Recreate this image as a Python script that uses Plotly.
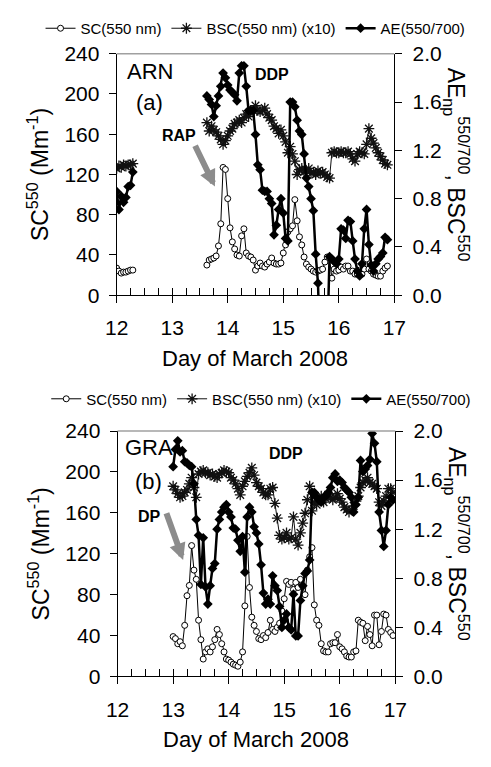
import plotly.graph_objects as go

FONT = "Liberation Sans, Arial, sans-serif"
HOURS_PER_DAY = 24

# ---------------- Panel (a) ARN ----------------
arn_seg1_start = 12.0
arn_sc_1 = [27, 24, 22, 23, 23, 24, 25, 25]
arn_bsc_1 = [1.05, 1.07, 1.06, 1.08, 1.07, 1.08, 1.08, 1.09]
arn_ae_1 = [0.86, 0.71, 0.82, 0.77, 0.81, 0.90, 0.91, 1.02]

arn_seg2_start = 13.625
arn_sc_2 = [30, 35, 36, 37, 39, 49, 71, 127, 125, 96, 67, 53,
            46, 40, 39, 59, 66, 42, 39, 38, 35, 25, 29, 32,
            29, 28, 31, 33, 37, 32, 31, 31, 32, 42, 50, 63,
            66, 69, 95, 74, 58, 50, 38, 31, 28, 26, 24, 23,
            24, 25, 26, 33, 38, 37, 17, 26, 24, 25, 28, 26,
            29, 29, 24, 24, 21, 21, 25, 21, 26, 36, 26, 24,
            21, 20, 19, 19, 24, 27, 29]
arn_bsc_2 = [1.43, 1.36, 1.40, 1.37, 1.35, 1.32, 1.29, 1.25, 1.28, 1.32, 1.36, 1.38,
             1.42, 1.43, 1.45, 1.43, 1.47, 1.50, 1.48, 1.52, 1.53, 1.57, 1.53, 1.52,
             1.53, 1.55, 1.50, 1.47, 1.45, 1.40, 1.38, 1.34, 1.37, 1.32, 1.27, 1.18,
             1.23, 1.17, 1.11, 1.00, 1.04, 1.05, 1.02, 1.03, 1.05, 1.01, 1.02, 1.00,
             1.03, 1.01, 1.02, 1.00, 0.98, 0.97, 1.18, 1.19, 1.18, 1.18, 1.19, 1.18,
             1.18, 1.19, 1.17, 1.13, 1.11, 1.17, 1.19, 1.18, 1.17, 1.25, 1.38, 1.30,
             1.26, 1.22, 1.18, 1.15, 1.12, 1.09, 1.08]
arn_ae_2 = [1.65, 1.62, 1.58, 1.48, 1.57, 1.65, 1.73, 1.84, 1.80, 1.74, 1.70, 1.68,
            1.66, 1.61, 1.84, 1.90, 1.90, 1.73, 1.53, 1.53, 1.53, 1.33, 1.08, 1.04,
            0.87, 0.86, 0.86, 0.80, 0.76, 0.50, 0.58, 0.71, 0.80, 0.68, 0.47, 0.45,
            1.60, 1.60, 1.56, 1.45, 1.36, 1.33, 1.17, 0.97, 0.90, 0.80, 0.70, 0.34,
            0.10, -0.5, -0.7, -0.6, -0.4, 0.32, 0.30, 0.28, 0.26, 0.30, 0.55, 0.54,
            0.47, 0.62, 0.61, 0.45, 0.30, 0.20, 0.16, 0.26, 0.55, 0.71, 0.42, 0.25,
            0.20, 0.26, 0.30, 0.32, 0.35, 0.48, 0.46]

# ---------------- Panel (b) GRA ----------------
gra_start = 13.0
gra_sc = [39, 37, 32, 34, 30, 50, 79, 89, 128, 104, 95, 55,
          36, 17, 24, 27, 24, 29, 36, 46, 41, 32, 24, 17,
          16, 14, 12, 11, 10, 14, 24, 69, 137, 87, 58, 50,
          44, 37, 36, 40, 38, 43, 55, 46, 44, 48, 52, 64,
          76, 93, 90, 92, 85, 92, 87, 95, 88, 80, 104, 117,
          126, 70, 55, 50, 32, 25, 24, 24, 32, 33, 33, 41,
          29, 27, 24, 20, 19, 19, 24, 25, 55, 53, 52, 35,
          49, 41, 30, 60, 60, 31, 44, 61, 60, 46, 43, 40]
gra_bsc = [1.55, 1.52, 1.49, 1.46, 1.47, 1.50, 1.52, 1.57, 1.62, 1.54, 1.46, 1.65,
           1.67, 1.68, 1.66, 1.66, 1.64, 1.65, 1.63, 1.62, 1.65, 1.66, 1.68, 1.67,
           1.66, 1.62, 1.60, 1.57, 1.53, 1.48, 1.55, 1.59, 1.63, 1.66, 1.70, 1.64,
           1.58, 1.55, 1.53, 1.50, 1.48, 1.48, 1.53, 1.54, 1.41, 1.29, 1.15, 1.12,
           1.13, 1.17, 1.12, 1.13, 1.30, 1.12, 1.07, 1.17, 1.25, 1.33, 1.44, 1.55,
           1.35, 1.42, 1.40, 1.45, 1.47, 1.42, 1.45, 1.48, 1.46, 1.44, 1.46, 1.49,
           1.45, 1.42, 1.38, 1.36, 1.34, 1.36, 1.39, 1.43, 1.47, 1.54, 1.58, 1.60,
           1.62, 1.58, 1.57, 1.55, 1.53, 1.42, 1.39, 1.43, 1.47, 1.53, 1.53, 1.50]
gra_ae = [1.71, 1.85, 1.92, 1.83, 1.84, 1.75, 1.74, 1.72, 1.71, 1.57, 1.28, 1.15,
          0.75, 1.13, 0.73, 0.59, 0.74, 0.88, 0.92, 1.20, 1.28, 1.34, 1.38, 1.40,
          1.34, 1.30, 1.21, 1.20, 1.11, 1.02, 1.14, 0.85, 1.30, 1.38, 1.34, 1.22,
          1.17, 1.08, 0.91, 0.68, 0.59, 0.63, 0.59, 0.82, 0.74, 0.70, 0.57, 0.40,
          0.46, 0.51, 0.40, 0.38, 0.67, 0.33, 0.33, 0.62, 0.74, 0.84, 0.86, 0.95,
          1.50, 1.50, 1.46, 1.44, 1.42, 1.46, 1.47, 1.50, 1.54, 1.62, 1.65, 1.59,
          1.60, 1.58, 1.54, 1.52, 1.50, 1.46, 1.34, 1.40, 1.46, 1.76, 1.67, 1.69,
          1.72, 1.77, 1.98, 1.90, 1.75, 1.34, 1.19, 1.06, 1.19, 1.40, 1.46, 1.44]

x_ticks = [12, 13, 14, 15, 16, 17]
names = ["SC(550 nm)", "BSC(550 nm) (x10)", "AE(550/700)"]


def hourly(start, values):
    return [start + i / HOURS_PER_DAY for i in range(len(values))]


def joined(start1, v1, start2, v2):
    xs = hourly(start1, v1) + [None] + hourly(start2, v2)
    ys = list(v1) + [None] + list(v2)
    return xs, ys


sc_style = dict(mode="lines+markers", line=dict(color="black", width=1),
                marker=dict(symbol="circle", size=6, color="white",
                            line=dict(color="black", width=1)))
bsc_style = dict(mode="lines+markers", line=dict(color="#111", width=1),
                 marker=dict(symbol="asterisk-open", size=9,
                             line=dict(color="#111", width=1.3)))
ae_style = dict(mode="lines+markers", line=dict(color="black", width=2.5),
                marker=dict(symbol="diamond", size=7.5, color="black"))

fig = go.Figure()

# Panel a
xa, ya = joined(arn_seg1_start, arn_sc_1, arn_seg2_start, arn_sc_2)
fig.add_trace(go.Scatter(x=xa, y=ya, name=names[0], xaxis="x", yaxis="y",
                         legend="legend", **sc_style))
xa, ya = joined(arn_seg1_start, arn_bsc_1, arn_seg2_start, arn_bsc_2)
fig.add_trace(go.Scatter(x=xa, y=ya, name=names[1], xaxis="x", yaxis="y2",
                         legend="legend", **bsc_style))
xa, ya = joined(arn_seg1_start, arn_ae_1, arn_seg2_start, arn_ae_2)
fig.add_trace(go.Scatter(x=xa, y=ya, name=names[2], xaxis="x", yaxis="y2",
                         legend="legend", **ae_style))

# Panel b
fig.add_trace(go.Scatter(x=hourly(gra_start, gra_sc), y=gra_sc, name=names[0],
                         xaxis="x2", yaxis="y3", legend="legend2", **sc_style))
fig.add_trace(go.Scatter(x=hourly(gra_start, gra_bsc), y=gra_bsc, name=names[1],
                         xaxis="x2", yaxis="y4", legend="legend2", **bsc_style))
fig.add_trace(go.Scatter(x=hourly(gra_start, gra_ae), y=gra_ae, name=names[2],
                         xaxis="x2", yaxis="y4", legend="legend2", **ae_style))

W, H = 491, 767
A_X = [110 / W, 402 / W]
A_Y = [1 - 292 / H, 1 - 43 / H]
B_X = [111 / W, 403 / W]
B_Y = [1 - 685 / H, 1 - 432 / H]

tickfont = dict(family=FONT, size=21, color="black")


def xaxis_main(domain, anchor):
    return dict(domain=domain, anchor=anchor, range=[12, 17], tickvals=x_ticks,
                ticks="outside", ticklen=7, tickcolor="black", showline=True,
                linecolor="black", linewidth=1, showgrid=False, zeroline=False,
                tickfont=tickfont, ticklabelstandoff=7,
                minor=dict(ticks="inside", dtick=0.25, ticklen=7, tickcolor="black",
                           showgrid=False))


def xaxis_over(over, anchor):
    return dict(overlaying=over, anchor=anchor, range=[12, 17], tickvals=x_ticks,
                ticks="inside", ticklen=7, tickcolor="black", showticklabels=False,
                showline=False, showgrid=False, zeroline=False)


def yleft(domain, anchor):
    return dict(domain=domain, anchor=anchor, range=[0, 240], dtick=40,
                ticks="outside", ticklen=7, tickcolor="black", showline=True,
                linecolor="black", linewidth=1, showgrid=False, zeroline=False,
                tickfont=tickfont, ticklabelstandoff=5)


def yright(over, anchor):
    return dict(overlaying=over, anchor=anchor, side="right", range=[0, 2.0],
                dtick=0.4, tickformat=".1f", ticks="outside", ticklen=7,
                tickcolor="black", showline=True, linecolor="black", linewidth=1,
                showgrid=False, zeroline=False, tickfont=tickfont,
                ticklabelstandoff=6)


legend_common = dict(orientation="h", font=dict(family=FONT, size=15, color="black"),
                     bgcolor="rgba(0,0,0,0)", yanchor="middle", xanchor="left",
                     itemclick=False, tracegroupgap=0, itemwidth=30)

ann = []
title_font = dict(family=FONT, size=22, color="black")
left_title = "SC<sup>550</sup> (Mm<sup>-1</sup>)"
right_title = "AE<sub>np</sub><sup>550/700</sup>, BSC<sup>550</sup>"
for (dx, dy) in [(A_X, A_Y), (B_X, B_Y)]:
    cy = (dy[0] + dy[1]) / 2
    ann.append(dict(xref="paper", yref="paper", x=28 / W, y=cy, text=left_title,
                    textangle=-90, showarrow=False, font=dict(family=FONT, size=23),
                    xanchor="center", yanchor="middle"))
    ann.append(dict(xref="paper", yref="paper", x=468 / W, y=cy + 10 / H,
                    text=right_title, textangle=90, showarrow=False,
                    font=dict(family=FONT, size=23), xanchor="center",
                    yanchor="middle"))
    ann.append(dict(xref="paper", yref="paper", x=(dx[0] + dx[1]) / 2,
                    y=dy[0] - 65 / H, text="Day of March 2008", showarrow=False,
                    font=title_font, xanchor="center", yanchor="middle"))

label_font = dict(family=FONT, size=22, color="black")
bold_font = dict(family=FONT, size=16, color="black")
arrow_style = dict(text="", showarrow=True, arrowhead=2, arrowsize=0.55,
                   arrowwidth=6, arrowcolor="#8c8c8c")
ann += [
    dict(xref="x", yref="y", x=12.6, y=222, text="ARN", showarrow=False, font=label_font),
    dict(xref="x", yref="y", x=12.6, y=192, text="(a)", showarrow=False, font=label_font),
    dict(xref="x", yref="y", x=14.8, y=219, text="<b>DDP</b>", showarrow=False, font=bold_font),
    dict(xref="x", yref="y", x=13.13, y=159, text="<b>RAP</b>", showarrow=False, font=bold_font),
    dict(xref="x", yref="y", axref="x", ayref="y", x=13.77, y=108, ax=13.40, ay=150,
         **arrow_style),
    dict(xref="x2", yref="y3", x=12.565, y=224, text="GRA", showarrow=False, font=label_font),
    dict(xref="x2", yref="y3", x=12.565, y=191, text="(b)", showarrow=False, font=label_font),
    dict(xref="x2", yref="y3", x=15.03, y=218, text="<b>DDP</b>", showarrow=False, font=bold_font),
    dict(xref="x2", yref="y3", x=12.58, y=156, text="<b>DP</b>", showarrow=False, font=bold_font),
    dict(xref="x2", yref="y3", axref="x2", ayref="y3", x=13.18, y=114, ax=12.87, ay=161,
         **arrow_style),
]

shapes = [
    dict(type="line", xref="x domain", yref="y domain", x0=0, x1=1, y0=1, y1=1,
         line=dict(color="#a0a0a0", width=1.5)),
    dict(type="line", xref="x2 domain", yref="y3 domain", x0=0, x1=1, y0=1, y1=1,
         line=dict(color="#a0a0a0", width=1.5)),
]

fig.update_layout(
    width=W, height=H, autosize=False,
    margin=dict(l=0, r=0, t=0, b=0),
    paper_bgcolor="white", plot_bgcolor="white",
    font=dict(family=FONT, color="black"),
    xaxis=xaxis_main(A_X, "y"),
    xaxis2=xaxis_main(B_X, "y3"),
    xaxis3=xaxis_over("x", "y"),
    xaxis4=xaxis_over("x2", "y3"),
    yaxis=yleft(A_Y, "x"),
    yaxis2=yright("y", "x"),
    yaxis3=yleft(B_Y, "x2"),
    yaxis4=yright("y3", "x2"),
    legend=dict(x=30 / W, y=1 - 17 / H, **legend_common),
    legend2=dict(x=36 / W, y=1 - 399 / H, **legend_common),
    annotations=ann,
    shapes=shapes,
)

fig.write_html("out.html")
